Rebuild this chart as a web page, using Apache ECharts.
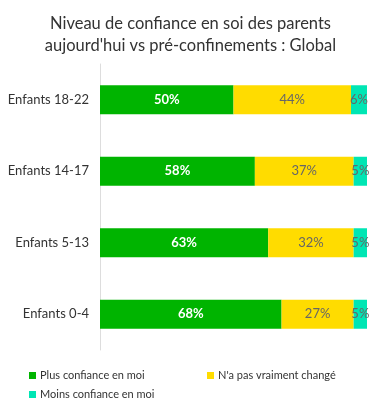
<!DOCTYPE html>
<html><head><meta charset="utf-8">
<script src="https://cdn.jsdelivr.net/npm/echarts@6/dist/echarts.min.js"></script>
<style>html,body{margin:0;padding:0;background:#fff}#c{width:381px;height:412px}</style>
</head><body><div id="c"></div>
<script>
var categories = ['Enfants 18-22', 'Enfants 14-17', 'Enfants 5-13', 'Enfants 0-4'];
var seriesNames = ['Plus confiance en moi', "N'a pas vraiment changé", 'Moins confiance en moi'];
var plusValues = [50, 58, 63, 68];
var sameValues = [44, 37, 32, 27];
var moinsValues = [6, 5, 5, 5];
var colors = ['#00b400', '#ffdc00', '#00e6b4'];
var FONT = 'Lato';
var chart = echarts.init(document.getElementById('c'));
function mk(name, data, color, lbl) {
  return {
    name: name, type: 'bar', stack: 'total', data: data, barWidth: 29,
    itemStyle: { color: color },
    label: Object.assign({ show: true, position: 'inside', formatter: '{c}%', fontFamily: FONT }, lbl)
  };
}
function lg(name, left, top) {
  return {
    left: left, top: top, icon: 'rect', itemWidth: 7, itemHeight: 7, itemGap: 4, padding: 0,
    textStyle: { fontFamily: FONT, fontSize: 11, color: '#333', padding: [0,0,0,-1] },
    data: [name]
  };
}
chart.setOption({
  animation: false,
  color: colors,
  title: {
    text: "Niveau de confiance en soi des parents\naujourd'hui vs pré-confinements : Global",
    left: 'center', top: 8, padding: [5, 12, 5, 5],
    textStyle: { fontFamily: FONT, fontSize: 16.5, fontWeight: 'normal', color: '#333', lineHeight: 22, align: 'center' }
  },
  grid: { left: 100, right: 14, top: 64, bottom: 62 },
  xAxis: { type: 'value', min: 0, max: 100, show: false },
  yAxis: {
    type: 'category', data: categories, inverse: true,
    axisLine: { show: true, lineStyle: { color: '#dddddd' } },
    axisTick: { show: false },
    axisLabel: { fontFamily: FONT, fontSize: 13, color: '#333', margin: 11 }
  },
  legend: [lg(seriesNames[0], 29, 370), lg(seriesNames[1], 207, 370), lg(seriesNames[2], 29, 389)],
  series: [
    mk(seriesNames[0], plusValues, colors[0], { color: '#fff', fontWeight: 'bold', fontSize: 13 }),
    mk(seriesNames[1], sameValues, colors[1], { color: '#666', fontSize: 13 }),
    mk(seriesNames[2], moinsValues, colors[2], { color: '#666', fontSize: 13 })
  ]
});
</script></body></html>
